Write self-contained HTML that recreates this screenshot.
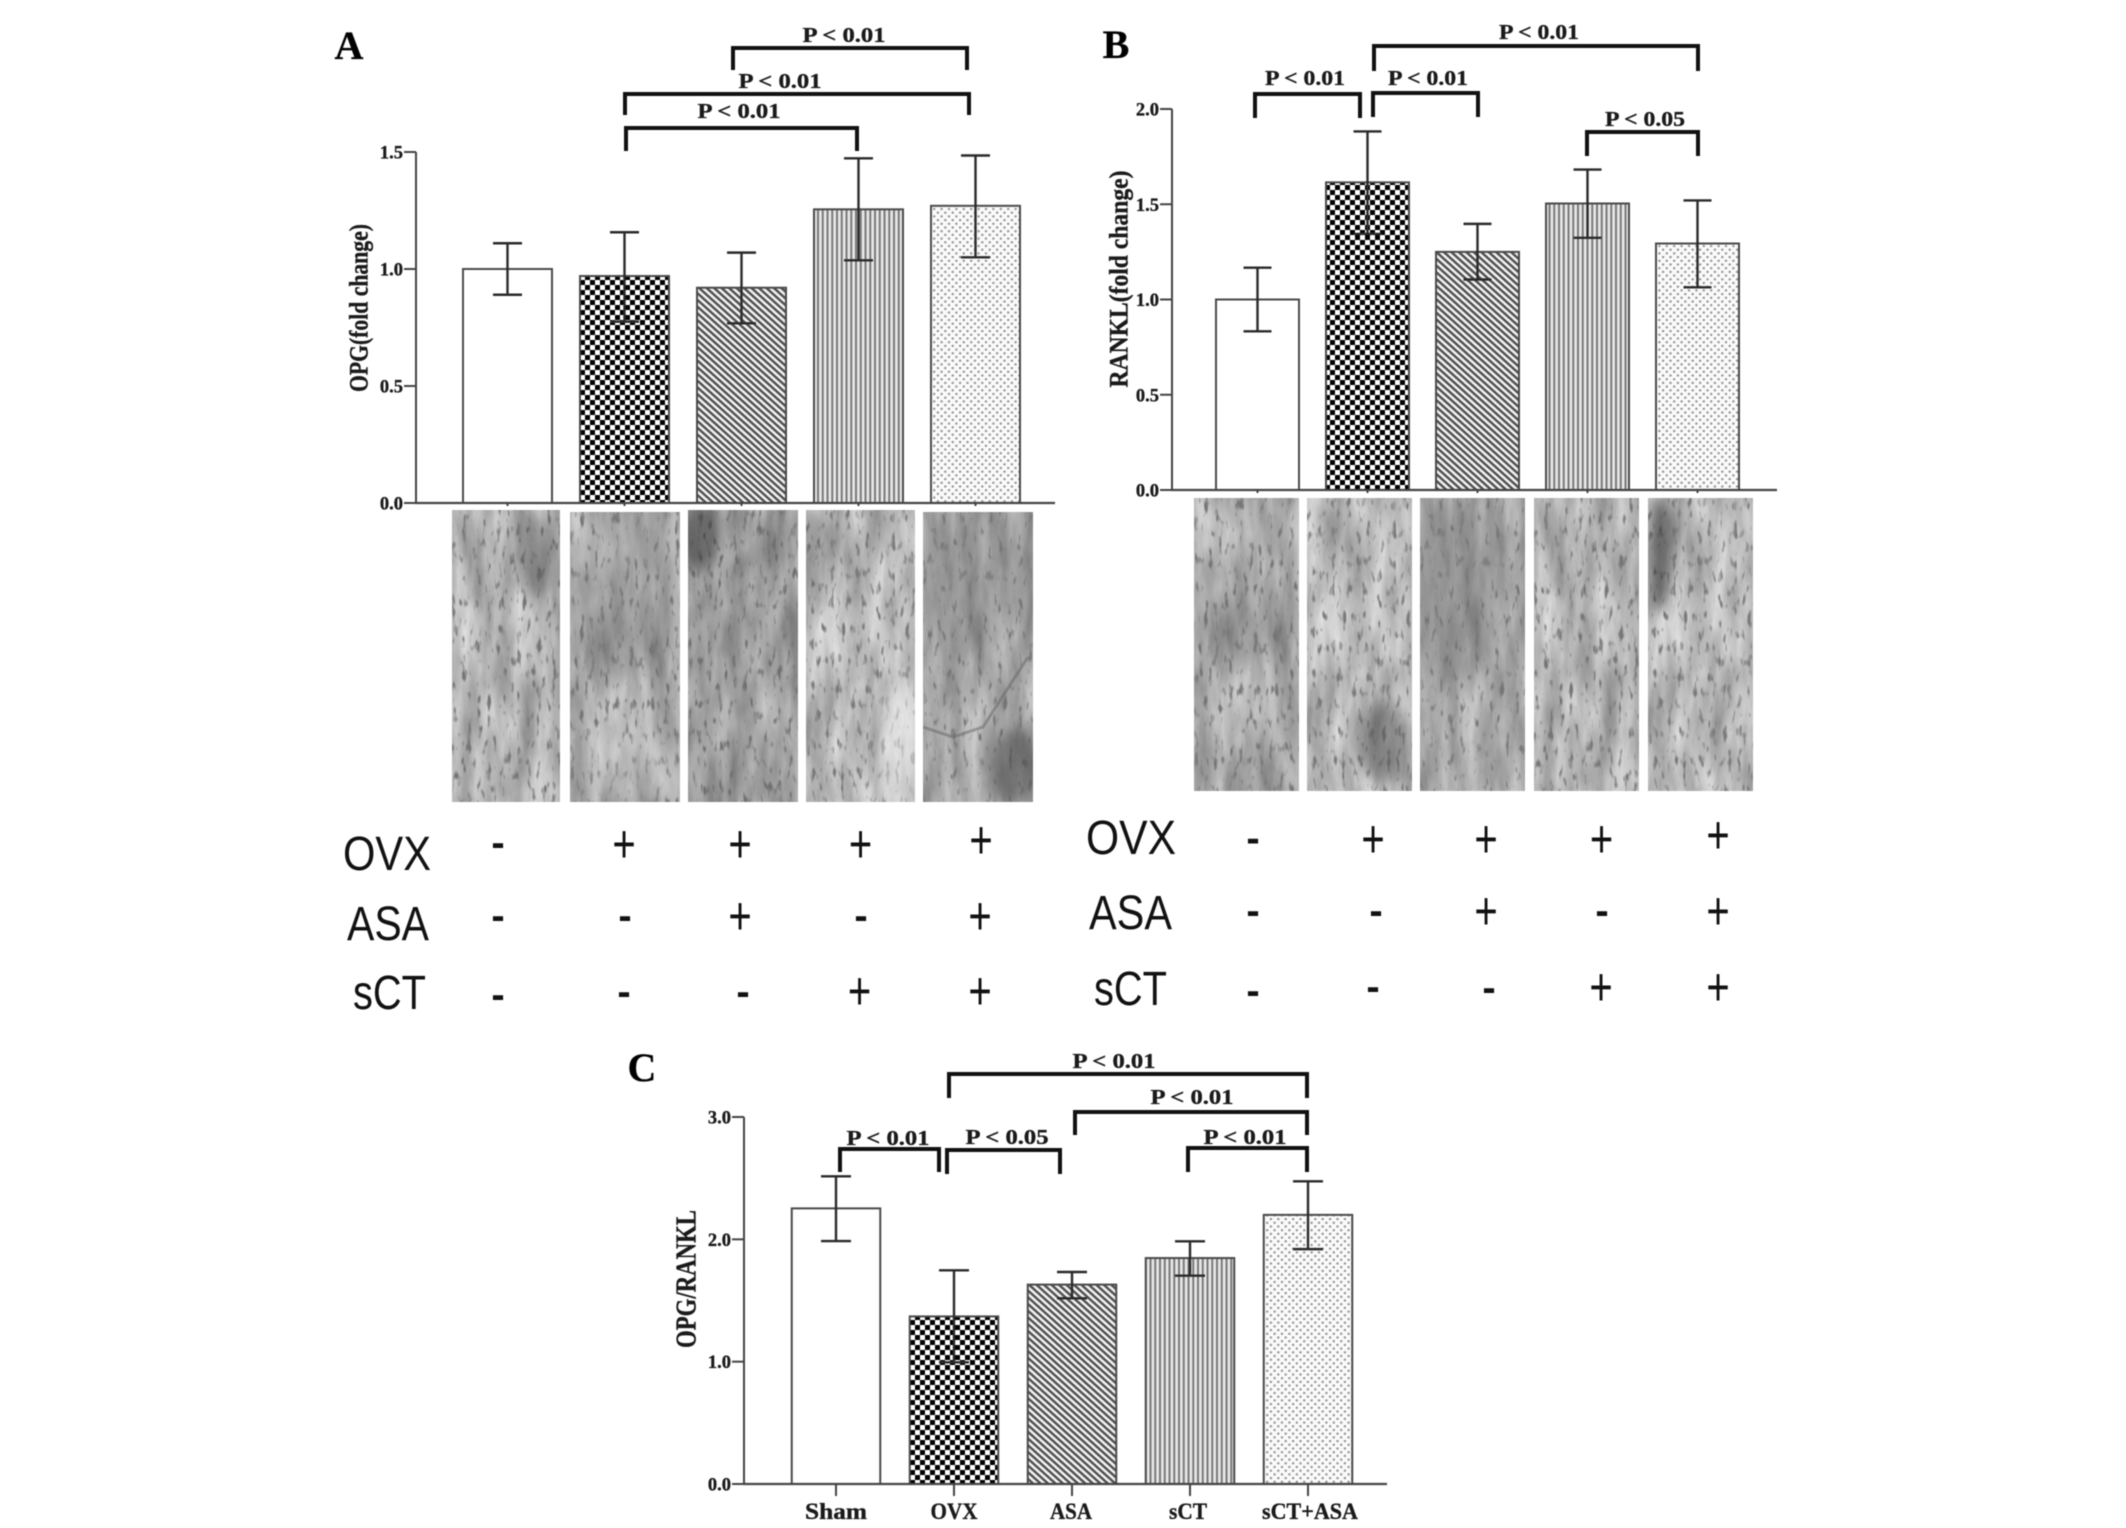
<!DOCTYPE html>
<html lang="en">
<head>
<meta charset="utf-8">
<title>OPG and RANKL expression</title>
<style>
html,body{margin:0;padding:0;background:#fff;width:2126px;height:1528px;overflow:hidden}
#figure{display:block;filter:blur(.6px)}
.serif{font-family:"Liberation Serif",serif;font-weight:bold;fill:#1a1a1a;stroke:#1a1a1a;stroke-width:.35}
.p{font-size:21px;text-anchor:middle}
.letter{font-size:40px;text-anchor:middle;fill:#000}
.row{font-family:"Liberation Sans",sans-serif;font-size:48px;fill:#111}
.mark{font-family:"Liberation Sans",sans-serif;font-size:40px;text-anchor:middle;fill:#111}
.minus{font-weight:bold}
.br{fill:none;stroke:#111;stroke-width:4}
</style>
</head>
<body>
<svg id="figure" xmlns="http://www.w3.org/2000/svg" width="2126" height="1528" viewBox="0 0 2126 1528">
<defs>
<pattern id="pat-check" width="10" height="10" patternUnits="userSpaceOnUse"><rect width="10" height="10" fill="#fff"/><rect width="5" height="5" fill="#000"/><rect x="5" y="5" width="5" height="5" fill="#000"/></pattern>
<pattern id="pat-diag" width="5" height="5" patternUnits="userSpaceOnUse" patternTransform="rotate(42)"><rect width="5" height="5" fill="#f2f2f2"/><rect width="5" height="2.4" fill="#4e4e4e"/></pattern>
<pattern id="pat-vert" width="4.75" height="10" patternUnits="userSpaceOnUse"><rect width="4.75" height="10" fill="#e8e8e8"/><rect width="2" height="10" fill="#777"/></pattern>
<pattern id="pat-dots" width="7.4" height="7.4" patternUnits="userSpaceOnUse"><rect width="7.4" height="7.4" fill="#fafafa"/><circle cx="1.8" cy="1.8" r="1.2" fill="#8f8f8f"/><circle cx="5.5" cy="5.5" r="1.2" fill="#8f8f8f"/></pattern>
<filter id="soft" x="-60%" y="-60%" width="220%" height="220%"><feGaussianBlur stdDeviation="7"/></filter>
<filter id="t1" x="0" y="0" width="1" height="1" color-interpolation-filters="sRGB"><feTurbulence type="fractalNoise" baseFrequency="0.05 0.012" numOctaves="4" seed="3"/><feColorMatrix values=".45 0 0 0 .47 .45 0 0 0 .47 .45 0 0 0 .47 0 0 0 0 1" result="a"/><feTurbulence type="fractalNoise" baseFrequency="0.2 0.07" numOctaves="2" seed="13"/><feColorMatrix values="0 0 0 0 .46 0 0 0 0 .46 0 0 0 0 .46 5 0 0 0 -2.9" result="b"/><feMerge><feMergeNode in="a"/><feMergeNode in="b"/></feMerge></filter>
<filter id="t2" x="0" y="0" width="1" height="1" color-interpolation-filters="sRGB"><feTurbulence type="fractalNoise" baseFrequency="0.05 0.012" numOctaves="4" seed="5"/><feColorMatrix values=".42 0 0 0 .45 .42 0 0 0 .45 .42 0 0 0 .45 0 0 0 0 1" result="a"/><feTurbulence type="fractalNoise" baseFrequency="0.2 0.07" numOctaves="2" seed="17"/><feColorMatrix values="0 0 0 0 .46 0 0 0 0 .46 0 0 0 0 .46 5 0 0 0 -2.9" result="b"/><feMerge><feMergeNode in="a"/><feMergeNode in="b"/></feMerge></filter>
<filter id="t3" x="0" y="0" width="1" height="1" color-interpolation-filters="sRGB"><feTurbulence type="fractalNoise" baseFrequency="0.05 0.012" numOctaves="4" seed="8"/><feColorMatrix values=".42 0 0 0 .42 .42 0 0 0 .42 .42 0 0 0 .42 0 0 0 0 1" result="a"/><feTurbulence type="fractalNoise" baseFrequency="0.2 0.07" numOctaves="2" seed="19"/><feColorMatrix values="0 0 0 0 .44 0 0 0 0 .44 0 0 0 0 .44 5 0 0 0 -2.9" result="b"/><feMerge><feMergeNode in="a"/><feMergeNode in="b"/></feMerge></filter>
<filter id="t4" x="0" y="0" width="1" height="1" color-interpolation-filters="sRGB"><feTurbulence type="fractalNoise" baseFrequency="0.05 0.012" numOctaves="4" seed="11"/><feColorMatrix values=".45 0 0 0 .5 .45 0 0 0 .5 .45 0 0 0 .5 0 0 0 0 1" result="a"/><feTurbulence type="fractalNoise" baseFrequency="0.2 0.07" numOctaves="2" seed="23"/><feColorMatrix values="0 0 0 0 .48 0 0 0 0 .48 0 0 0 0 .48 5 0 0 0 -2.9" result="b"/><feMerge><feMergeNode in="a"/><feMergeNode in="b"/></feMerge></filter>
<filter id="t5" x="0" y="0" width="1" height="1" color-interpolation-filters="sRGB"><feTurbulence type="fractalNoise" baseFrequency="0.05 0.012" numOctaves="4" seed="21"/><feColorMatrix values=".42 0 0 0 .44 .42 0 0 0 .44 .42 0 0 0 .44 0 0 0 0 1" result="a"/><feTurbulence type="fractalNoise" baseFrequency="0.2 0.07" numOctaves="2" seed="29"/><feColorMatrix values="0 0 0 0 .46 0 0 0 0 .46 0 0 0 0 .46 5 0 0 0 -3" result="b"/><feMerge><feMergeNode in="a"/><feMergeNode in="b"/></feMerge></filter>
</defs>

<g id="chart-a"></g>
<g id="chart-b"></g>
<g id="chart-c"></g>

<g>
<text class="serif letter" x="349" y="59">A</text>
<text class="serif letter" x="1116" y="58">B</text>
<text class="serif letter" x="642" y="1081">C</text>
</g>

<g>
<text class="serif p" x="844" y="42" textLength="83" lengthAdjust="spacingAndGlyphs">P &lt; 0.01</text>
<path class="br" d="M733 70V48H967V70"/>
<text class="serif p" x="780" y="88" textLength="83" lengthAdjust="spacingAndGlyphs">P &lt; 0.01</text>
<path class="br" d="M625 115V94H969V115"/>
<text class="serif p" x="739" y="118" textLength="83" lengthAdjust="spacingAndGlyphs">P &lt; 0.01</text>
<path class="br" d="M626 151V128H857V151"/>
</g>
<g>
<text class="serif p" x="1539" y="39" textLength="80" lengthAdjust="spacingAndGlyphs">P &lt; 0.01</text>
<path class="br" d="M1374 71V46H1698V71"/>
<text class="serif p" x="1305" y="85" textLength="80" lengthAdjust="spacingAndGlyphs">P &lt; 0.01</text>
<path class="br" d="M1255 118V94H1360V118"/>
<text class="serif p" x="1428" y="85" textLength="80" lengthAdjust="spacingAndGlyphs">P &lt; 0.01</text>
<path class="br" d="M1373 117V93H1478V117"/>
<text class="serif p" x="1645" y="126" textLength="80" lengthAdjust="spacingAndGlyphs">P &lt; 0.05</text>
<path class="br" d="M1587 156V132H1698V156"/>
</g>
<g>
<text class="serif p" x="1114" y="1068" textLength="83" lengthAdjust="spacingAndGlyphs">P &lt; 0.01</text>
<path class="br" d="M949 1098V1074H1307V1098"/>
<text class="serif p" x="1192" y="1104" textLength="83" lengthAdjust="spacingAndGlyphs">P &lt; 0.01</text>
<path class="br" d="M1075 1135V1112H1307V1135"/>
<text class="serif p" x="888" y="1145" textLength="83" lengthAdjust="spacingAndGlyphs">P &lt; 0.01</text>
<path class="br" d="M840 1172V1149H939V1172"/>
<text class="serif p" x="1007" y="1144" textLength="83" lengthAdjust="spacingAndGlyphs">P &lt; 0.05</text>
<path class="br" d="M947 1174V1150H1060V1174"/>
<text class="serif p" x="1245" y="1144" textLength="83" lengthAdjust="spacingAndGlyphs">P &lt; 0.01</text>
<path class="br" d="M1188 1172V1148H1307V1172"/>
</g>

<g>
<svg x="452" y="510" width="108" height="292"><rect width="108" height="292" filter="url(#t1)"/><ellipse cx="85" cy="45" rx="20" ry="40" fill="#555" opacity=".45" filter="url(#soft)"/></svg>
<svg x="570" y="512" width="110" height="290"><rect width="110" height="290" filter="url(#t2)"/><ellipse cx="55" cy="60" rx="60" ry="70" fill="#888" opacity=".25" filter="url(#soft)"/><ellipse cx="60" cy="255" rx="50" ry="35" fill="#fff" opacity=".2" filter="url(#soft)"/></svg>
<svg x="688" y="510" width="110" height="292"><rect width="110" height="292" filter="url(#t3)"/><ellipse cx="12" cy="28" rx="20" ry="34" fill="#333" opacity=".6" filter="url(#soft)"/><path d="M5 110L40 60L100 35" stroke="#555" stroke-width="7" fill="none" opacity=".45" filter="url(#soft)"/></svg>
<svg x="806" y="510" width="109" height="292"><rect width="109" height="292" filter="url(#t4)"/><ellipse cx="4" cy="45" rx="7" ry="50" fill="#444" opacity=".6" filter="url(#soft)"/><ellipse cx="95" cy="235" rx="24" ry="70" fill="#fff" opacity=".45" filter="url(#soft)"/><ellipse cx="70" cy="20" rx="8" ry="28" fill="#555" opacity=".4" filter="url(#soft)"/></svg>
<svg x="923" y="512" width="110" height="290"><rect width="110" height="290" filter="url(#t5)"/><ellipse cx="55" cy="60" rx="60" ry="70" fill="#777" opacity=".25" filter="url(#soft)"/><ellipse cx="92" cy="255" rx="24" ry="40" fill="#444" opacity=".55" filter="url(#soft)"/><path d="M0 215L30 225L60 215L105 145" stroke="#666" stroke-width="3" fill="none" opacity=".5"/></svg>
</g>
<g>
<svg x="1194" y="498" width="105" height="293"><rect width="105" height="293" filter="url(#t2)"/></svg>
<svg x="1307" y="498" width="105" height="293"><rect width="105" height="293" filter="url(#t4)"/><ellipse cx="76" cy="245" rx="26" ry="40" fill="#555" opacity=".5" filter="url(#soft)"/></svg>
<svg x="1420" y="498" width="105" height="293"><rect width="105" height="293" filter="url(#t5)"/><ellipse cx="35" cy="90" rx="55" ry="90" fill="#777" opacity=".3" filter="url(#soft)"/></svg>
<svg x="1534" y="498" width="105" height="293"><rect width="105" height="293" filter="url(#t1)"/></svg>
<svg x="1648" y="498" width="105" height="293"><rect width="105" height="293" filter="url(#t4)"/><ellipse cx="11" cy="55" rx="10" ry="60" fill="#333" opacity=".7" filter="url(#soft)"/></svg>
</g>

<g>
<text class="row" x="343" y="870" textLength="88" lengthAdjust="spacingAndGlyphs">OVX</text>
<text class="row" x="347" y="940" textLength="82" lengthAdjust="spacingAndGlyphs">ASA</text>
<text class="row" x="353" y="1009" textLength="73" lengthAdjust="spacingAndGlyphs">sCT</text>
<g>
<text class="mark minus" x="498" y="856">-</text>
<text class="mark" transform="translate(624 862) scale(1 1.35)">+</text>
<text class="mark" transform="translate(740 862) scale(1 1.35)">+</text>
<text class="mark" transform="translate(860.5 862) scale(1 1.35)">+</text>
<text class="mark" transform="translate(981 858) scale(1 1.35)">+</text>
<text class="mark minus" x="498" y="929">-</text>
<text class="mark minus" x="625" y="929">-</text>
<text class="mark" transform="translate(740 934) scale(1 1.35)">+</text>
<text class="mark minus" x="861" y="929">-</text>
<text class="mark" transform="translate(980 934) scale(1 1.35)">+</text>
<text class="mark minus" x="498" y="1008">-</text>
<text class="mark minus" x="624" y="1005">-</text>
<text class="mark minus" x="743" y="1005">-</text>
<text class="mark" transform="translate(859.5 1009) scale(1 1.35)">+</text>
<text class="mark" transform="translate(980 1009) scale(1 1.35)">+</text>
</g>
</g>
<g>
<text class="row" x="1086" y="854" textLength="90" lengthAdjust="spacingAndGlyphs">OVX</text>
<text class="row" x="1089" y="929" textLength="83" lengthAdjust="spacingAndGlyphs">ASA</text>
<text class="row" x="1094" y="1005" textLength="73" lengthAdjust="spacingAndGlyphs">sCT</text>
<g>
<text class="mark minus" x="1253" y="851.5">-</text>
<text class="mark" transform="translate(1373 857) scale(1 1.35)">+</text>
<text class="mark" transform="translate(1486 857) scale(1 1.35)">+</text>
<text class="mark" transform="translate(1601.6 857) scale(1 1.35)">+</text>
<text class="mark" transform="translate(1718 853) scale(1 1.35)">+</text>
<text class="mark minus" x="1253" y="924">-</text>
<text class="mark minus" x="1376" y="924">-</text>
<text class="mark" transform="translate(1486 929) scale(1 1.35)">+</text>
<text class="mark minus" x="1602" y="924">-</text>
<text class="mark" transform="translate(1718 929) scale(1 1.35)">+</text>
<text class="mark minus" x="1253" y="1004">-</text>
<text class="mark minus" x="1373" y="1000">-</text>
<text class="mark minus" x="1489" y="1001">-</text>
<text class="mark" transform="translate(1601 1005) scale(1 1.35)">+</text>
<text class="mark" transform="translate(1718 1005) scale(1 1.35)">+</text>
</g>
</g>
</svg>

<script>
const categories = ['Sham', 'OVX', 'ASA', 'sCT', 'sCT+ASA'];
const barPatterns = ['#fff', 'url(#pat-check)', 'url(#pat-diag)', 'url(#pat-vert)', 'url(#pat-dots)'];

const opgTicks = [0, 0.5, 1, 1.5];
const opgMeans = [1.0, 0.97, 0.92, 1.255, 1.27];
const opgErrHigh = [1.11, 1.157, 1.07, 1.473, 1.485];
const opgErrLow = [0.89, 0.775, 0.768, 1.037, 1.05];

const ranklTicks = [0, 0.5, 1, 1.5, 2];
const ranklMeans = [1.0, 1.615, 1.25, 1.504, 1.294];
const ranklErrHigh = [1.167, 1.882, 1.397, 1.682, 1.52];
const ranklErrLow = [0.833, 1.344, 1.105, 1.324, 1.064];

const ratioTicks = [0, 1, 2, 3];
const ratioMeans = [2.253, 1.37, 1.63, 1.847, 2.2];
const ratioErrHigh = [2.515, 1.747, 1.733, 1.984, 2.474];
const ratioErrLow = [1.986, 0.995, 1.518, 1.703, 1.92];

const SVGNS = 'http://www.w3.org/2000/svg';

function make(parent, tag, attrs, text) {
  const el = document.createElementNS(SVGNS, tag);
  for (const k in attrs) el.setAttribute(k, attrs[k]);
  if (text !== undefined) el.textContent = text;
  parent.appendChild(el);
  return el;
}

function drawChart(cfg) {
  const root = document.getElementById(cfg.id);
  const yScale = v => cfg.y0 - (v - cfg.yMin) * (cfg.y0 - cfg.yTop) / (cfg.yMax - cfg.yMin);
  const xCenter = i => cfg.x0 + cfg.step * i;

  cfg.means.forEach((m, i) => {
    const bar = make(root, 'rect', {
      x: xCenter(i) - cfg.barW / 2,
      y: yScale(m),
      width: cfg.barW,
      height: cfg.y0 - yScale(m),
      fill: barPatterns[i],
      stroke: '#4a4a4a',
      'stroke-width': 2
    });
    
    
  });

  cfg.means.forEach((m, i) => {
    const cx = xCenter(i);
    const hi = yScale(cfg.hi[i]);
    const lo = yScale(cfg.lo[i]);
    const err = make(root, 'path', {
      d: 'M' + (cx - cfg.cap) + ' ' + hi + 'H' + (cx + cfg.cap) + 'M' + cx + ' ' + hi + 'V' + lo + 'M' + (cx - cfg.cap) + ' ' + lo + 'H' + (cx + cfg.cap),
      fill: 'none',
      stroke: '#2a2a2a',
      'stroke-width': 2.4
    });
    
    
  });

  const yAxis = make(root, 'line', {
    x1: cfg.axisX, x2: cfg.axisX, y1: yScale(cfg.yMax), y2: cfg.y0, stroke: '#444', 'stroke-width': 2
  });
  
  

  const xAxis = make(root, 'line', {
    x1: cfg.axisX - 1, x2: cfg.axisEnd, y1: cfg.y0, y2: cfg.y0, stroke: '#444', 'stroke-width': 2.2
  });
  
  

  cfg.ticks.forEach(t => {
    const tick = make(root, 'line', {
      x1: cfg.axisX - 12, x2: cfg.axisX, y1: yScale(t), y2: yScale(t), stroke: '#444', 'stroke-width': 2
    });
    
    

    const label = make(root, 'text', {
      x: cfg.axisX - 13,
      y: yScale(t) + 6.5,
      'text-anchor': 'end',
      class: 'serif',
      'font-size': 18.5
    }, t.toFixed(1));
    
    
  });

  categories.forEach((c, i) => {
    const xt = make(root, 'line', {
      x1: xCenter(i), x2: xCenter(i), y1: cfg.y0, y2: cfg.y0 + cfg.xTick, stroke: '#444', 'stroke-width': 2
    });
    
    
  });

  const title = make(root, 'text', {
    transform: 'translate(' + cfg.titleX + ' ' + cfg.titleY + ') rotate(-90)',
    'text-anchor': 'middle',
    class: 'serif',
    'font-size': cfg.titleSize,
    textLength: cfg.titleLen,
    lengthAdjust: 'spacingAndGlyphs'
  }, cfg.title);
  
  

  if (cfg.xLabelLens) {
    categories.forEach((c, i) => {
      const lab = make(root, 'text', {
        x: xCenter(i) + cfg.xLabelShift[i],
        y: cfg.y0 + 35,
        'text-anchor': 'middle',
        class: 'serif',
        'font-size': 23,
        textLength: cfg.xLabelLens[i],
        lengthAdjust: 'spacingAndGlyphs'
      }, c);
      
      
    });
  }
}

drawChart({
  id: 'chart-a', means: opgMeans, hi: opgErrHigh, lo: opgErrLow, ticks: opgTicks,
  yMin: 0, yMax: 1.5, y0: 503, yTop: 152, axisX: 416, axisEnd: 1055,
  x0: 507.5, step: 117, barW: 89, cap: 14.5, xTick: 3,
  title: 'OPG(fold change)', titleX: 367.5, titleY: 308, titleSize: 26, titleLen: 168
});

drawChart({
  id: 'chart-b', means: ranklMeans, hi: ranklErrHigh, lo: ranklErrLow, ticks: ranklTicks,
  yMin: 0, yMax: 2, y0: 490, yTop: 109, axisX: 1172, axisEnd: 1777,
  x0: 1257.5, step: 110, barW: 83, cap: 14, xTick: 3,
  title: 'RANKL(fold change)', titleX: 1127.5, titleY: 279, titleSize: 26, titleLen: 217
});

drawChart({
  id: 'chart-c', means: ratioMeans, hi: ratioErrHigh, lo: ratioErrLow, ticks: ratioTicks,
  yMin: 0, yMax: 3, y0: 1484, yTop: 1117, axisX: 744, axisEnd: 1387,
  x0: 836, step: 118, barW: 88.5, cap: 15, xTick: 12,
  title: 'OPG/RANKL', titleX: 695.5, titleY: 1279, titleSize: 28, titleLen: 138,
  xLabelLens: [62, 47, 42, 38, 96], xLabelShift: [0, 0, -1, -2, 2]
});
</script>
</body>
</html>
